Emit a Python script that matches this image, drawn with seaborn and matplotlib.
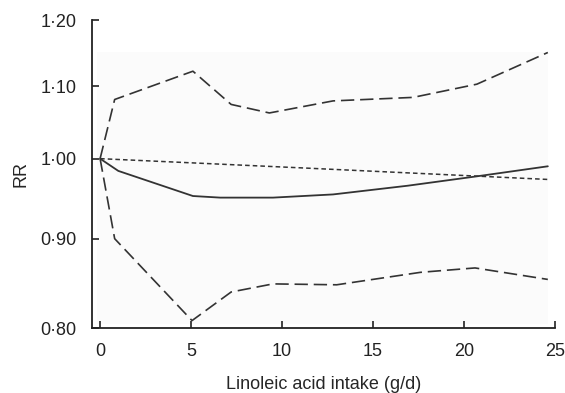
import numpy as np
import pandas as pd
import seaborn as sns
import matplotlib.pyplot as plt

sns.set_style("ticks")
plt.rcParams['font.family'] = ['Liberation Sans', 'DejaVu Sans']

# values
x_est = [0, 1.0, 5.1, 6.6, 9.5, 12.8, 16.9, 20.7, 24.6]
rr_est = [1.000, 0.984, 0.952, 0.950, 0.950, 0.954, 0.965, 0.977, 0.990]

x_upper = [0, 0.8, 5.1, 7.2, 9.3, 12.8, 17.2, 20.7, 24.6]
rr_upper = [1.000, 1.081, 1.122, 1.074, 1.062, 1.079, 1.084, 1.103, 1.150]

x_lower = [0, 0.8, 5.05, 7.2, 9.5, 13.0, 17.6, 20.6, 24.6]
rr_lower = [1.000, 0.900, 0.808, 0.839, 0.848, 0.847, 0.861, 0.866, 0.853]

x_linear = [0, 11.0, 24.6]
rr_linear = [1.000, 0.988, 0.973]

yticks = [0.80, 0.90, 1.00, 1.10, 1.20]
ytick_labels = ['0·80', '0·90', '1·00', '1·10', '1·20']
xticks = [0, 5, 10, 15, 20, 25]

fig = plt.figure(figsize=(5.65, 3.93), dpi=100)
ax = fig.add_axes([0.163, 0.165, 0.8195, 0.7837])

# faint grey panel behind the curves
ax.fill_between([-0.17, 24.6], 0.804, 1.150, color='#fbfbfb', lw=0, zorder=0)

col = '#333333'
sns.lineplot(x=x_upper, y=rr_upper, ax=ax, color=col, lw=1.2,
             linestyle=(0, (8, 3.5)), estimator=None, sort=False)
sns.lineplot(x=x_lower, y=rr_lower, ax=ax, color=col, lw=1.2,
             linestyle=(0, (8, 3.5)), estimator=None, sort=False)
sns.lineplot(x=x_linear, y=rr_linear, ax=ax, color=col, lw=1.1,
             linestyle=(0, (3, 2)), estimator=None, sort=False)
sns.lineplot(x=x_est, y=rr_est, ax=ax, color=col, lw=1.3,
             estimator=None, sort=False)

ax.set_yscale('log')
ax.set_ylim(0.80, 1.20)
ax.set_xlim(-0.44, 25)
ax.set_yticks(yticks)
ax.set_yticklabels(ytick_labels)
ax.minorticks_off()
ax.set_xticks(xticks)

ax.tick_params(direction='in', length=5, width=1.2, colors='#222222',
               labelsize=13, pad=11)
ax.tick_params(axis='x', pad=11)
sns.despine(ax=ax)
for s in ['left', 'bottom']:
    ax.spines[s].set_linewidth(1.3)
    ax.spines[s].set_color('#222222')

ax.set_xlabel('Linoleic acid intake (g/d)', fontsize=13, labelpad=11)
ax.set_ylabel('RR', fontsize=13, labelpad=8)

plt.savefig('out.png', dpi=100)
